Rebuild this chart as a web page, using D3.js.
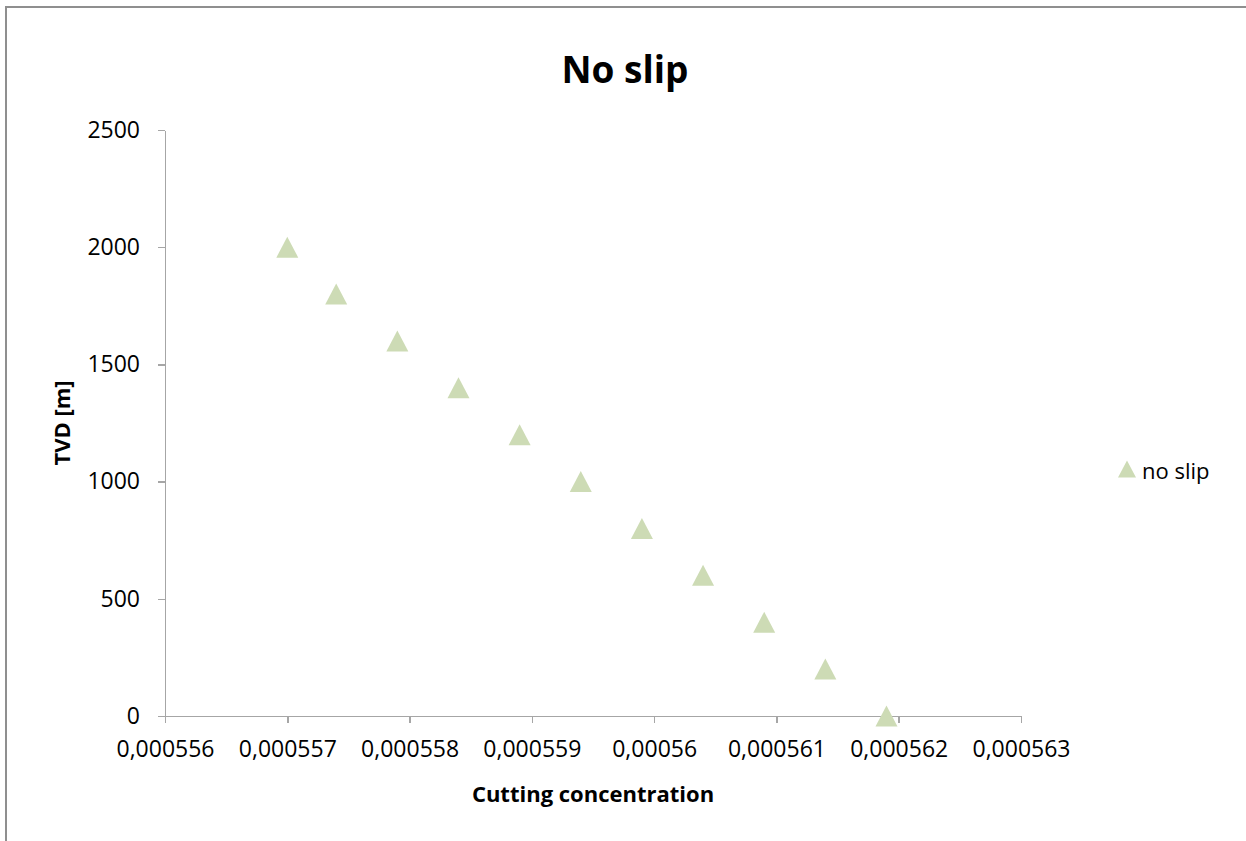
<!DOCTYPE html>
<meta charset="utf-8">
<style>
body {
  margin: 0;
  background: #fff;
  font-family: "Open Sans", sans-serif;
}
svg {
  display: block;
}
.axis path,
.axis line {
  fill: none;
  stroke: #a6a6a6;
  stroke-width: 1.5px;
  shape-rendering: crispEdges;
}
.axis text {
  font-family: "Open Sans", sans-serif;
  font-size: 23px;
  fill: #000;
}
</style>
<body>
<script src="https://d3js.org/d3.v7.min.js"></script>
<script>

// Data
var concentration = [0.000557, 0.0005574, 0.0005579, 0.0005584, 0.0005589, 0.0005594,
                     0.0005599, 0.0005604, 0.0005609, 0.0005614, 0.0005619];
var tvd = [2000, 1800, 1600, 1400, 1200, 1000, 800, 600, 400, 200, 0];

var xTicks = [0.000556, 0.000557, 0.000558, 0.000559, 0.00056, 0.000561, 0.000562, 0.000563];
var xTickLabels = ["0,000556", "0,000557", "0,000558", "0,000559", "0,00056", "0,000561", "0,000562", "0,000563"];
var yTicks = [0, 500, 1000, 1500, 2000, 2500];
var yTickLabels = ["0", "500", "1000", "1500", "2000", "2500"];

var seriesName = "no slip";
var title = "No slip";

var data = concentration.map(function(c, i) { return {x: c, y: tvd[i]}; });

var width = 1246, height = 841;

// plot area in page pixels
var plotLeft = 165, plotRight = 1021, plotTop = 130, plotBottom = 716;

var x = d3.scaleLinear()
          .domain([0.000556, 0.000563])
          .range([plotLeft, plotRight]);

var y = d3.scaleLinear()
          .domain([0, 2500])
          .range([plotBottom, plotTop]);

var svg = d3.select("body").append("svg")
            .attr("width", width)
            .attr("height", height);

// chart frame (runs off the right and bottom of the window)
svg.append("rect")
   .attr("x", 6)
   .attr("y", 7)
   .attr("width", 1400)
   .attr("height", 1000)
   .attr("fill", "none")
   .attr("stroke", "#8f8f8f")
   .attr("stroke-width", 2);

// x axis
svg.append("g")
   .attr("class", "x axis")
   .attr("transform", "translate(0," + plotBottom + ")")
   .call(d3.axisBottom(x)
           .tickValues(xTicks)
           .tickSize(7)
           .tickSizeOuter(0)
           .tickPadding(18)
           .tickFormat(function(d, i) { return xTickLabels[i]; }));

// y axis
svg.append("g")
   .attr("class", "y axis")
   .attr("transform", "translate(" + plotLeft + ",0)")
   .call(d3.axisLeft(y)
           .tickValues(yTicks)
           .tickSize(7)
           .tickSizeOuter(0)
           .tickPadding(18)
           .tickFormat(function(d, i) { return yTickLabels[i]; }));

// title
svg.append("text")
   .attr("x", 625)
   .attr("y", 83)
   .attr("text-anchor", "middle")
   .attr("font-size", "37px")
   .attr("font-weight", "bold")
   .text(title);

// x axis label
svg.append("text")
   .attr("x", 593)
   .attr("y", 802)
   .attr("text-anchor", "middle")
   .attr("font-size", "22px")
   .attr("font-weight", "bold")
   .text("Cutting concentration");

// y axis label
svg.append("text")
   .attr("transform", "translate(70," + ((plotTop + plotBottom) / 2) + ") rotate(-90)")
   .attr("text-anchor", "middle")
   .attr("font-size", "22px")
   .attr("font-weight", "bold")
   .text("TVD [m]");

// triangle marker centred on its bounding box
function triangle(w, h) {
  return "M0," + (-h / 2) + "L" + (w / 2) + "," + (h / 2) + "L" + (-w / 2) + "," + (h / 2) + "Z";
}

var markerColor = "#cddbb5";

svg.selectAll(".dot")
   .data(data)
   .enter().append("path")
      .attr("class", "dot")
      .attr("d", triangle(22, 21))
      .attr("transform", function(d) { return "translate(" + x(d.x) + "," + y(d.y) + ")"; })
      .attr("fill", markerColor);

// legend
var legend = svg.append("g")
   .attr("transform", "translate(1127,469)");

legend.append("path")
   .attr("d", triangle(18, 17))
   .attr("fill", markerColor);

legend.append("text")
   .attr("x", 15)
   .attr("y", 10)
   .attr("font-size", "22px")
   .text(seriesName);

</script>
</body>
